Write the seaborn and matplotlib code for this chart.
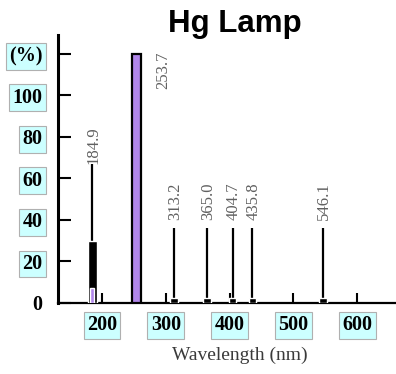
import matplotlib
matplotlib.use("Agg")
import matplotlib.pyplot as plt
import seaborn as sns

# 汞灯谱线
wavelengths = [184.9, 253.7, 313.2, 365.0, 404.7, 435.8, 546.1]
line_labels = ["184.9", "253.7", "313.2", "365.0", "404.7", "435.8", "546.1"]
stem_heights = [67, 120, 36, 36, 36, 36, 36]
box_heights = [30, 0, 2.5, 2.5, 2.5, 2.5, 2.5]
purple_heights = [7, 120, 0, 0, 0, 0, 0]

y_ticks = [0, 20, 40, 60, 80, 100, 120]
y_ticklabels = ["0", "20", "40", "60", "80", "100", "(%)"]
x_ticks = [200, 300, 400, 500, 600]
x_ticklabels = ["200", "300", "400", "500", "600"]

sns.set_style("white", {"axes.edgecolor": "black", "text.color": "black",
                        "xtick.color": "black", "ytick.color": "black"})
plt.rcParams["font.family"] = ["Liberation Serif", "DejaVu Serif"]

fig = plt.figure(figsize=(3.96, 3.74), dpi=100)
ax = fig.add_axes([58 / 396, 71 / 374, 338 / 396, 268 / 374])

purple = "#b186ea"
for wl, st, bh, ph in zip(wavelengths, stem_heights, box_heights, purple_heights):
    if wl == 253.7:
        ax.bar(wl, ph, width=14, color=purple, edgecolor="black", linewidth=1.6, zorder=3)
        continue
    ax.vlines(wl, 0, st, color="black", linewidth=1.6, zorder=2)
    if wl == 184.9:
        ax.bar(wl, bh, width=14, color="black", zorder=3)
        ax.bar(wl, ph, width=6, color=purple, zorder=4)
    else:
        ax.bar(wl, bh, width=12, color="black", zorder=3)

# 谱线标注
for wl, lab, st in zip(wavelengths, line_labels, stem_heights):
    if wl == 253.7:
        ax.text(295.5, 121, lab, rotation=90, ha="center", va="top",
                fontsize=12, color="#606060")
    else:
        y0 = 67 if wl == 184.9 else 40
        ax.text(wl + 1.5, y0, lab, rotation=90, ha="center", va="bottom",
                fontsize=12, color="#606060")

ax.set_xlim(131, 661)
ax.set_ylim(0, 129)
sns.despine(ax=ax)
ax.spines["left"].set_linewidth(2.2)
ax.spines["bottom"].set_linewidth(1.6)

ax.set_yticks(y_ticks)
ax.set_yticklabels(y_ticklabels, fontsize=14.5, fontweight="bold")
ax.set_xticks(x_ticks)
ax.set_xticklabels(x_ticklabels, fontsize=14.5, fontweight="bold")
ax.tick_params(axis="y", direction="in", length=9, width=1.5, pad=11, left=True)
ax.tick_params(axis="x", direction="in", length=7, width=1.5, pad=9, bottom=True)

for lbl in ax.get_yticklabels() + ax.get_xticklabels():
    if lbl.get_text() != "0":
        lbl.set_bbox(dict(facecolor="#ccffff", edgecolor="#b0b0b0", pad=2.5, linewidth=0.8))

fig.text(240 / 396, 1 - 355 / 374, "Wavelength (nm)", ha="center", va="center",
         fontsize=14, color="#3a3a3a")
fig.text(235 / 396, 1 - 24 / 374, "Hg Lamp", ha="center", va="center",
         fontsize=22.5, fontweight="bold", color="black",
         family=["Liberation Sans", "DejaVu Sans"])

fig.savefig("out.png", dpi=100)
